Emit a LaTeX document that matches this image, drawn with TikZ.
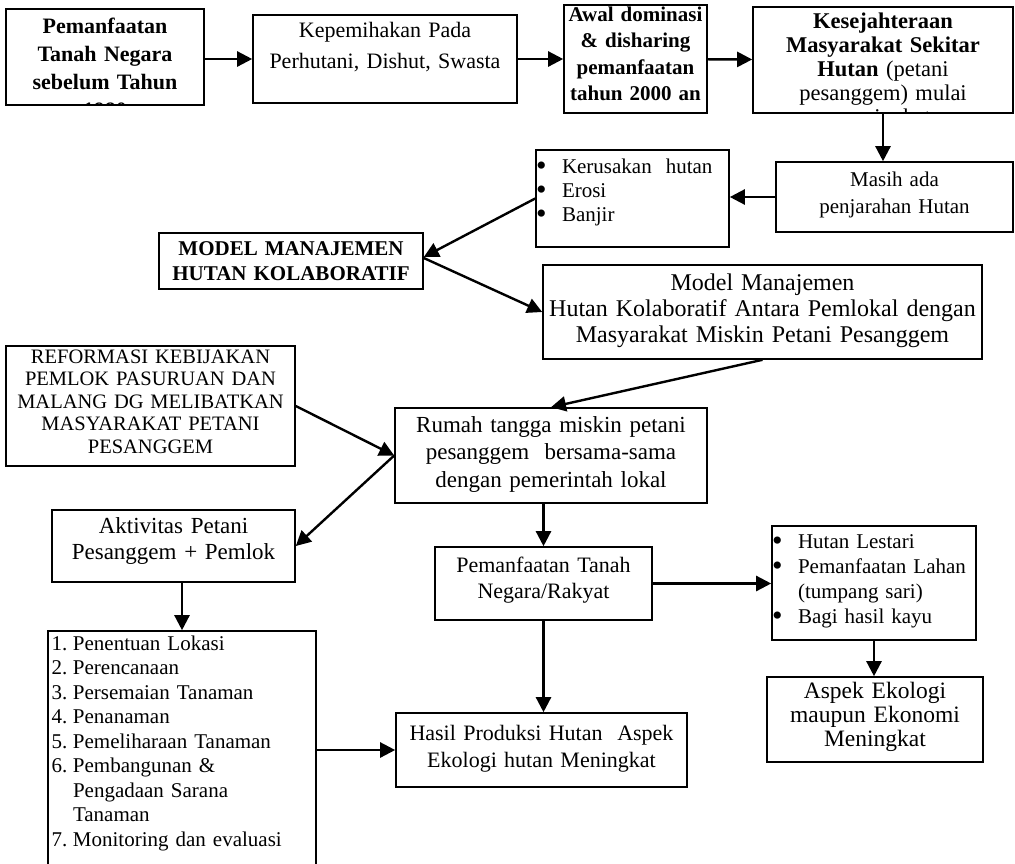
\documentclass[tikz,border=0pt]{standalone}
\usepackage{fontspec}
\setmainfont{Liberation Serif}
\usetikzlibrary{arrows.meta,positioning,calc}
\definecolor{Ink}{HTML}{000000}
\newcommand{\dotitem}{\makebox[26pt][l]{\raisebox{-2.5pt}{\fontsize{30}{30}\selectfont\textbullet}}}
\tikzset{
  >={Triangle[length=15pt,width=15pt]},
  box/.style={draw=Ink,line width=1.6pt,inner sep=0pt,align=center},
  fs/.style 2 args={font=\fontsize{#1}{#2}\selectfont},
  bfs/.style 2 args={font=\fontsize{#1}{#2}\selectfont\bfseries},
  dim/.style n args={3}{text width=#1pt,text height=#2pt,text depth=#3pt},
  flow/.style={->,line width=2.4pt,draw=Ink}
}

\begin{document}
\begin{tikzpicture}[x=1pt,y=-1pt]
  \useasboundingbox (0,0) rectangle (1015,863);

  % top row
  \node[box,minimum width=198pt,minimum height=96pt,
    path picture={\node[inner sep=0pt,anchor=north,align=center,bfs={22}{28},dim={198}{24}{72}]
      at (path picture bounding box.north) {Pemanfaatan\\Tanah Negara\\sebelum Tahun\\1980};}]
    (awal) at (105,57) {};
  \node[box,fs={22}{31},dim={264}{22}{66}] (pihak) at (385,59)
    {Kepemihakan Pada\\Perhutani, Dishut, Swasta};
  \node[box,bfs={21}{26.5},dim={143}{16}{92}] (dominasi) at (635.5,59)
    {Awal dominasi\\\& disharing\\pemanfaatan\\tahun 2000 an};
  \node[box,minimum width=260pt,minimum height=106pt,
    path picture={\node[inner sep=0pt,anchor=north,align=center,fs={22.5}{24},dim={260}{21}{85}]
      at (path picture bounding box.north)
      {\textbf{Kesejahteraan}\\\textbf{Masyarakat Sekitar}\\\textbf{Hutan} (petani\\pesanggem) mulai\\meningkat};}]
    (sejahtera) at (883,60) {};

  \node[box,fs={21}{27},dim={237}{24}{46}] (jarah) at (894.5,197)
    {Masih ada\\penjarahan Hutan};
  \node[box,align=left,fs={21}{24},dim={193}{23}{74}] (rusak) at (632.5,198.5)
    {\dotitem Kerusakan\ \ hutan\\
     \dotitem Erosi\\
     \dotitem Banjir};
  \node[box,bfs={21}{25},dim={264}{22}{34}] (model) at (291,261)
    {MODEL MANAJEMEN\\HUTAN KOLABORATIF};
  \node[box,fs={24}{26},dim={439}{25}{69}] (kolab) at (762.5,312)
    {Model Manajemen\\Hutan Kolaboratif Antara Pemlokal dengan\\Masyarakat Miskin Petani Pesanggem};

  % middle
  \node[box,fs={20.5}{22.5},dim={289}{17}{103}] (reformasi) at (150.5,406)
    {REFORMASI KEBIJAKAN\\PEMLOK PASURUAN DAN\\MALANG DG MELIBATKAN\\MASYARAKAT PETANI\\PESANGGEM};
  \node[box,fs={23}{27.5},dim={312}{24}{71}] (rumah) at (551,455.5)
    {Rumah tangga miskin petani\\pesanggem\ \ bersama-sama\\dengan pemerintah lokal};
  \node[box,fs={23}{26},dim={243}{23}{49}] (aktivitas) at (173.5,546)
    {Aktivitas Petani\\Pesanggem + Pemlok};
  \node[box,fs={22}{26.5},dim={217}{25}{48}] (tanah) at (543.5,583.5)
    {Pemanfaatan Tanah\\Negara/Rakyat};
  \node[box,align=left,fs={21}{25},dim={204}{22}{92}] (lestari) at (874,583)
    {\dotitem Hutan Lestari\\
     \dotitem Pemanfaatan Lahan\\
     \hspace*{26pt}(tumpang sari)\\
     \dotitem Bagi hasil kayu};

  % bottom
  \node[box,align=left,fs={21}{24.5},dim={268}{19}{230}] (tahap) at (182,755.5)
    {\makebox[25pt][l]{\,1.}Penentuan Lokasi\\
     \makebox[25pt][l]{\,2.}Perencanaan\\
     \makebox[25pt][l]{\,3.}Persemaian Tanaman\\
     \makebox[25pt][l]{\,4.}Penanaman\\
     \makebox[25pt][l]{\,5.}Pemeliharaan Tanaman\\
     \makebox[25pt][l]{\,6.}Pembangunan \&\\
     \hspace*{25pt}Pengadaan Sarana\\
     \hspace*{25pt}Tanaman\\
     \makebox[25pt][l]{\,7.}Monitoring dan evaluasi};
  \node[box,fs={22}{27},dim={291}{27}{47}] (hasil) at (541.5,750)
    {Hasil Produksi Hutan\ \ Aspek\\Ekologi hutan Meningkat};
  \node[box,fs={23.5}{24},dim={216}{21}{64}] (ekologi) at (875,719.5)
    {Aspek Ekologi\\maupun Ekonomi\\Meningkat};

  \draw[flow] (awal.east |- pihak) -- (pihak.west);
  \draw[flow] (pihak) -- (dominasi);
  \draw[flow] (dominasi) -- (sejahtera);
  \draw[flow] (sejahtera.south) -- (sejahtera.south |- jarah.north);
  \draw[flow] (jarah.west) -- (jarah.west -| rusak.east);
  \draw[flow] (rusak.west) -- ([yshift=4pt]model.east);
  \draw[flow] ([yshift=3pt]model.east) -- (kolab.west);
  \draw[flow] (kolab.south) -- (rumah.north);
  \draw[flow] (reformasi.east) -- (rumah.west);
  \draw[flow] (rumah.west) -- (aktivitas.east);
  \draw[flow] (tanah.north |- rumah.south) -- (tanah.north);
  \draw[flow] (tanah.east) -- (tanah.east -| lestari.west);
  \draw[flow] (tanah.south) -- (tanah.south |- hasil.north);
  \draw[flow] (lestari.south) -- (lestari.south |- ekologi.north);
  \draw[flow] (tahap.north |- aktivitas.south) -- (tahap.north);
  \draw[flow] (tahap.east |- hasil.west) -- (hasil.west);
\end{tikzpicture}
\end{document}
